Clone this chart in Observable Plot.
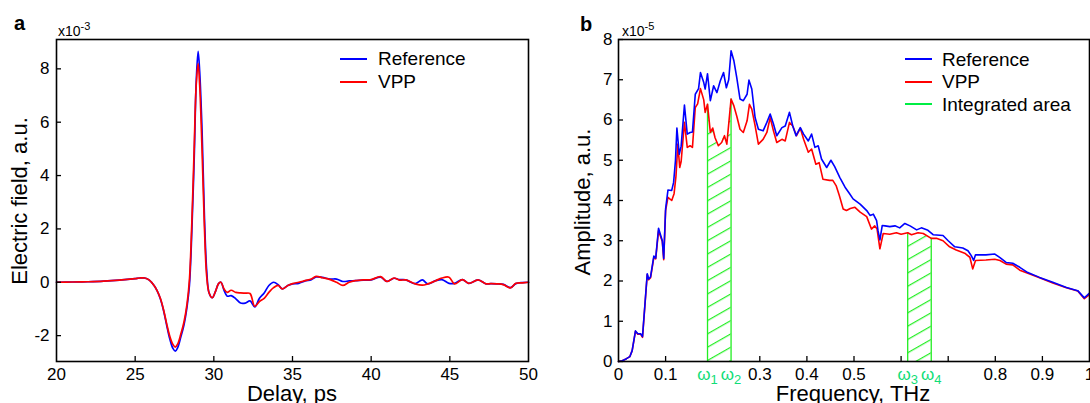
<!DOCTYPE html>
<html><head><meta charset="utf-8">
<script src="https://cdn.jsdelivr.net/npm/d3@7"></script>
<script src="https://cdn.jsdelivr.net/npm/@observablehq/plot@0.6"></script>
<style>
body{margin:0;background:#fff;font-family:"Liberation Sans",Arial,sans-serif;}
#wrap{position:relative;width:1090px;height:403px;overflow:hidden;background:#fff;}
.t{position:absolute;white-space:nowrap;color:#000;line-height:1;}
.sw{position:absolute;height:2px;}
sup{font-size:11px;vertical-align:0;position:relative;top:-6px;}
</style></head><body><div id="wrap"></div>
<script>
// ---------- Panel a: time domain ----------
const delayPs = [20,21,22,23,24,24.5,25,25.3,25.6,25.9,26.2,26.4,26.6,26.8,27.0,27.2,27.4,27.55,27.7,27.9,28.1,28.3,28.45,28.6,28.75,28.88,29.0,29.1,29.25,29.4,29.55,29.7,29.9,30.1,30.3,30.45,30.65,30.85,31.1,31.4,31.7,32.0,32.3,32.6,32.9,33.2,33.5,33.8,34.1,34.35,34.7,35.0,35.4,35.8,36.2,36.5,36.9,37.4,37.8,38.2,38.6,39.0,39.5,40.0,40.6,41.0,41.45,41.8,42.2,42.8,43.25,43.6,44.1,44.5,44.95,45.3,45.8,46.2,46.8,47.3,47.6,48.0,48.4,48.85,49.2,49.6,50];
const fieldReference = [0,0.01,0.02,0.04,0.08,0.11,0.14,0.16,0.16,0.08,-0.12,-0.32,-0.62,-1.05,-1.6,-2.12,-2.48,-2.58,-2.45,-2.05,-1.6,-0.9,-0.1,1.9,4.6,7.5,8.66,7.9,5.7,2.5,0.4,-0.4,-0.58,-0.35,-0.05,0.0,-0.3,-0.52,-0.5,-0.62,-0.78,-0.78,-0.7,-0.92,-0.6,-0.4,-0.12,0.0,-0.1,-0.25,-0.12,-0.06,-0.04,0.05,0.1,0.2,0.18,0.12,0.12,0.03,0.05,0.06,0.08,0.09,0.19,0.03,0.15,0.1,0.09,-0.05,0.09,-0.06,0.06,0.1,-0.04,-0.04,0.1,-0.04,0.09,-0.06,-0.05,-0.06,-0.08,-0.2,-0.05,-0.01,0.0];
const fieldVPP = [0,0.01,0.02,0.04,0.08,0.11,0.14,0.16,0.16,0.08,-0.12,-0.32,-0.6,-1.02,-1.55,-2.02,-2.33,-2.43,-2.32,-1.95,-1.5,-0.8,0.1,2.2,5.0,7.4,8.2,7.4,5.0,2.1,0.2,-0.4,-0.58,-0.35,-0.05,0.0,-0.25,-0.38,-0.3,-0.38,-0.4,-0.41,-0.42,-0.9,-0.72,-0.6,-0.38,-0.2,-0.12,-0.25,-0.12,-0.05,0.0,0.06,0.12,0.22,0.17,0.1,0.0,-0.12,0.0,0.06,0.09,0.1,0.21,0.03,0.16,0.08,0.09,-0.06,-0.11,-0.06,0.06,0.16,0.19,-0.06,0.1,-0.04,0.09,-0.06,-0.05,-0.06,-0.09,-0.21,-0.04,-0.02,0.0];
const delayTickLabels = [20,25,30,35,40,45,50];
const delayTickMarks = [25,30,35,40,45];
const fieldTickLabels = [-2,0,2,4,6,8];

// ---------- Panel b: frequency domain ----------
const freqRef = [0,0.008,0.017,0.024,0.029,0.036,0.041,0.047,0.051,0.061,0.064,0.068,0.075,0.079,0.085,0.093,0.096,0.1,0.105,0.113,0.117,0.121,0.124,0.129,0.133,0.14,0.146,0.152,0.157,0.163,0.17,0.174,0.181,0.184,0.189,0.195,0.202,0.209,0.216,0.223,0.229,0.234,0.239,0.245,0.251,0.258,0.265,0.273,0.277,0.283,0.29,0.297,0.307,0.315,0.322,0.329,0.336,0.347,0.354,0.363,0.37,0.377,0.386,0.393,0.403,0.41,0.417,0.424,0.431,0.442,0.451,0.459,0.47,0.481,0.49,0.498,0.513,0.527,0.534,0.541,0.548,0.551,0.555,0.56,0.566,0.576,0.587,0.597,0.608,0.619,0.633,0.643,0.657,0.668,0.689,0.7,0.714,0.731,0.742,0.749,0.754,0.758,0.78,0.799,0.81,0.823,0.837,0.852,0.869,0.894,0.922,0.951,0.975,0.989,1];
const ampRef = [0,0.02,0.07,0.12,0.27,0.76,0.69,0.69,0.62,2.18,2.05,2.1,2.62,2.57,3.31,3.0,2.56,3.79,4.26,4.25,4.45,5.0,5.8,5.15,5.35,6.37,5.65,5.69,5.7,6.64,6.78,7.18,6.93,6.77,7.15,6.48,6.85,6.68,6.97,7.18,6.8,7.0,7.72,7.47,7.06,6.52,6.48,6.64,6.99,6.77,6.06,5.77,5.73,5.94,6.15,5.9,5.61,5.81,5.85,6.19,5.85,5.61,5.81,5.65,5.48,5.65,5.32,5.36,5.03,4.82,5.0,4.84,4.57,4.33,4.18,4.04,3.91,3.75,3.63,3.66,3.5,3.25,3.02,3.38,3.37,3.35,3.37,3.32,3.43,3.37,3.27,3.32,3.26,3.15,3.13,3.0,2.85,2.82,2.75,2.63,2.51,2.65,2.65,2.67,2.58,2.46,2.44,2.34,2.21,2.09,1.97,1.84,1.76,1.58,1.7];
const freqVPP = [0,0.008,0.017,0.024,0.029,0.036,0.041,0.047,0.051,0.061,0.064,0.068,0.075,0.079,0.085,0.093,0.096,0.1,0.105,0.113,0.118,0.122,0.126,0.13,0.133,0.14,0.146,0.152,0.157,0.163,0.168,0.174,0.181,0.184,0.189,0.195,0.2,0.205,0.212,0.219,0.225,0.23,0.239,0.245,0.251,0.258,0.265,0.273,0.278,0.283,0.29,0.297,0.307,0.315,0.322,0.329,0.336,0.347,0.354,0.363,0.37,0.378,0.386,0.393,0.403,0.41,0.419,0.426,0.434,0.448,0.455,0.462,0.469,0.477,0.484,0.492,0.502,0.513,0.527,0.537,0.544,0.549,0.555,0.562,0.576,0.59,0.6,0.614,0.622,0.636,0.647,0.664,0.675,0.689,0.703,0.717,0.735,0.746,0.752,0.758,0.78,0.799,0.81,0.823,0.837,0.852,0.869,0.894,0.922,0.951,0.975,0.989,1];
const ampVPP = [0,0.02,0.07,0.12,0.27,0.75,0.68,0.68,0.6,2.16,2.03,2.08,2.58,2.55,3.25,2.98,2.53,3.75,4.08,4.0,4.17,4.6,5.4,4.82,4.97,5.94,5.32,5.36,5.32,6.31,6.4,6.78,6.5,6.19,6.39,5.69,5.8,5.56,5.36,5.44,5.61,5.4,6.52,6.35,6.1,5.77,5.69,5.98,6.39,6.27,5.86,5.4,5.52,5.69,6.06,5.73,5.44,5.52,5.48,5.94,5.85,5.61,5.8,5.52,5.2,5.28,4.9,4.94,4.53,4.5,4.5,4.37,4.12,3.79,3.75,3.8,3.83,3.71,3.6,3.29,3.37,3.29,2.8,3.18,3.16,3.2,3.16,3.2,3.15,3.2,3.18,3.06,3.06,3.0,2.85,2.77,2.69,2.59,2.3,2.51,2.52,2.54,2.51,2.42,2.4,2.27,2.19,2.08,1.95,1.83,1.75,1.56,1.66];
const omegaFreq = [0.189, 0.239, 0.614, 0.664];
const omegaLabels = ["ω1", "ω2", "ω3", "ω4"];
const freqTickLabels = [0, 0.1, 0.3, 0.4, 0.5, 0.8, 0.9, 1];
const freqTickMarks = [0.1, 0.3, 0.4, 0.5, 0.6, 0.7, 0.8, 0.9];
const ampTickLabels = [0,1,2,3,4,5,6,7,8];

const legendA = ["Reference", "VPP"];
const legendB = ["Reference", "VPP", "Integrated area"];

// ---------- styles ----------
const BLUE = "#0000ff", RED = "#ff0000", GREEN = "#22ee22", GREEN_TXT = "#11dd77";
const FONT = "'Liberation Sans', Arial, sans-serif";
const W = 545, H = 403, MT = 39, MB = 42;
const FH = H - MT - MB;
const TICK = 5;

const wrap = document.getElementById("wrap");

// tables
const tableA = delayPs.map((t, i) => ({t, ref: fieldReference[i], vpp: fieldVPP[i]}));
const tableRef = freqRef.map((f, i) => ({f, v: ampRef[i]}));
const tableVPP = freqVPP.map((f, i) => ({f, v: ampVPP[i]}));
const omegaRows = omegaFreq.map((f, i) => ({f, v: ampVPP[freqVPP.indexOf(f)], label: omegaLabels[i]}));
const band1 = tableVPP.filter(d => d.f >= omegaFreq[0] && d.f <= omegaFreq[1]);
const band2 = tableVPP.filter(d => d.f >= omegaFreq[2] && d.f <= omegaFreq[3]);

// ---------- Plot a ----------
const MLA = 56, MRA = 17;
const svgA = Plot.plot({
  width: W, height: H, marginLeft: MLA, marginRight: MRA, marginTop: MT, marginBottom: MB,
  style: {fontFamily: FONT, fontSize: "17px", background: "transparent", overflow: "visible"},
  x: {domain: [20, 50]},
  y: {domain: [-2.97, 9.1]},
  marks: [
    Plot.line(tableA, {x: "t", y: "ref", stroke: BLUE, strokeWidth: 1.7, curve: "catmull-rom"}),
    Plot.line(tableA, {x: "t", y: "vpp", stroke: RED, strokeWidth: 1.7, curve: "catmull-rom"}),
    Plot.tickX(delayTickMarks, {x: d => d, insetTop: FH - TICK, stroke: "#000", strokeWidth: 1.3}),
    Plot.tickY(fieldTickLabels, {y: d => d, insetRight: (W - MLA - MRA) - TICK, stroke: "#000", strokeWidth: 1.3}),
    Plot.axisX({ticks: delayTickLabels, tickSize: 0, tickPadding: 6, tickFormat: d => String(d), fontSize: 17, label: null}),
    Plot.axisY({ticks: fieldTickLabels, tickSize: 0, tickPadding: 7, tickFormat: d => String(d), fontSize: 17, label: null}),
    Plot.frame({stroke: "#000", strokeWidth: 1.6})
  ]
});
svgA.style.position = "absolute"; svgA.style.left = "0px"; svgA.style.top = "0px";
wrap.appendChild(svgA);

// ---------- Plot b ----------
const MLB = 73, MRB = 1;
const svgB = Plot.plot({
  width: W, height: H, marginLeft: MLB, marginRight: MRB, marginTop: MT, marginBottom: MB,
  style: {fontFamily: FONT, fontSize: "17px", background: "transparent", overflow: "visible"},
  x: {domain: [0, 1]},
  y: {domain: [0, 8]},
  marks: [
    Plot.areaY(band1, {x: "f", y: "v", fill: "url(#hatchB)"}),
    Plot.areaY(band2, {x: "f", y: "v", fill: "url(#hatchB)"}),
    Plot.ruleX(omegaRows, {x: "f", y1: 0, y2: "v", stroke: GREEN, strokeWidth: 1.3}),
    Plot.line(tableVPP, {x: "f", y: "v", stroke: RED, strokeWidth: 1.6}),
    Plot.line(tableRef, {x: "f", y: "v", stroke: BLUE, strokeWidth: 1.6}),
    Plot.tickX(freqTickMarks, {x: d => d, insetTop: FH - TICK, stroke: "#000", strokeWidth: 1.3}),
    Plot.tickY(ampTickLabels, {y: d => d, insetRight: (W - MLB - MRB) - TICK, stroke: "#000", strokeWidth: 1.3}),
    Plot.axisX({ticks: freqTickLabels, tickSize: 0, tickPadding: 6, tickFormat: d => String(d), fontSize: 17, label: null}),
    Plot.axisY({ticks: ampTickLabels, tickSize: 0, tickPadding: 6, tickFormat: d => String(d), fontSize: 17, label: null}),
    Plot.text(omegaRows, {x: "f", frameAnchor: "bottom", dy: 6, lineAnchor: "top", text: "label", fill: GREEN_TXT, fontSize: 17, className: "omega"}),
    Plot.frame({stroke: "#000", strokeWidth: 1.6})
  ]
});
const ns = "http://www.w3.org/2000/svg";
const defs = document.createElementNS(ns, "defs");
defs.innerHTML = `<pattern id="hatchB" patternUnits="userSpaceOnUse" x="0" y="0" width="40" height="11.56" patternTransform="rotate(-29.7)"><line x1="0" y1="0.6" x2="40" y2="0.6" stroke="${GREEN}" stroke-width="1.1"/></pattern>`;
svgB.insertBefore(defs, svgB.firstChild);
// subscript digits for the omega labels
svgB.querySelectorAll("g.omega text, .omega text").forEach(el => {
  const s = el.textContent;
  el.textContent = s.slice(0, 1);
  const ts = document.createElementNS(ns, "tspan");
  ts.setAttribute("dy", "4");
  ts.setAttribute("font-size", "13");
  ts.textContent = s.slice(1);
  el.appendChild(ts);
});
svgB.style.position = "absolute"; svgB.style.left = W + "px"; svgB.style.top = "0px";
wrap.appendChild(svgB);

// ---------- HTML text ----------
function txt(html, left, top, size, extra = {}) {
  const d = document.createElement("div");
  d.className = "t";
  d.innerHTML = html;
  d.style.left = left + "px"; d.style.top = top + "px"; d.style.fontSize = size + "px";
  Object.assign(d.style, extra);
  wrap.appendChild(d);
  return d;
}
function centered(html, cx, cy, size, rotate) {
  const d = txt(html, cx, cy, size);
  d.style.transform = `translate(-50%,-50%)` + (rotate ? ` rotate(${rotate}deg)` : "");
  return d;
}
txt("a", 14, 13, 20, {fontWeight: "bold"});
txt("b", 580, 14, 20, {fontWeight: "bold"});
txt("x10<sup>-3</sup>", 58, 24, 14);
txt("x10<sup>-5</sup>", 622, 24, 14);
centered("Delay, ps", 292, 394, 22);
centered("Frequency, THz", 853, 394, 22);
centered("Electric field, a.u.", 20, 201, 22, -90);
centered("Amplitude, a.u.", 583, 202, 22, -90);

function legend(items, colors, lineX, textX, y0, step) {
  items.forEach((label, i) => {
    const y = y0 + i * step;
    const s = document.createElement("div");
    s.className = "sw";
    s.style.left = lineX + "px"; s.style.top = Math.round(y - 1) + "px"; s.style.width = "27px";
    s.style.background = colors[i];
    wrap.appendChild(s);
    txt(label, textX, y - 0.5 * 19 - 0.3, 19);
  });
}
legend(legendA, [BLUE, RED], 340, 378, 59, 23);
legend(legendB, [BLUE, RED, "#00ee44"], 905, 942, 59.3, 22.5);
</script>
</body></html>
